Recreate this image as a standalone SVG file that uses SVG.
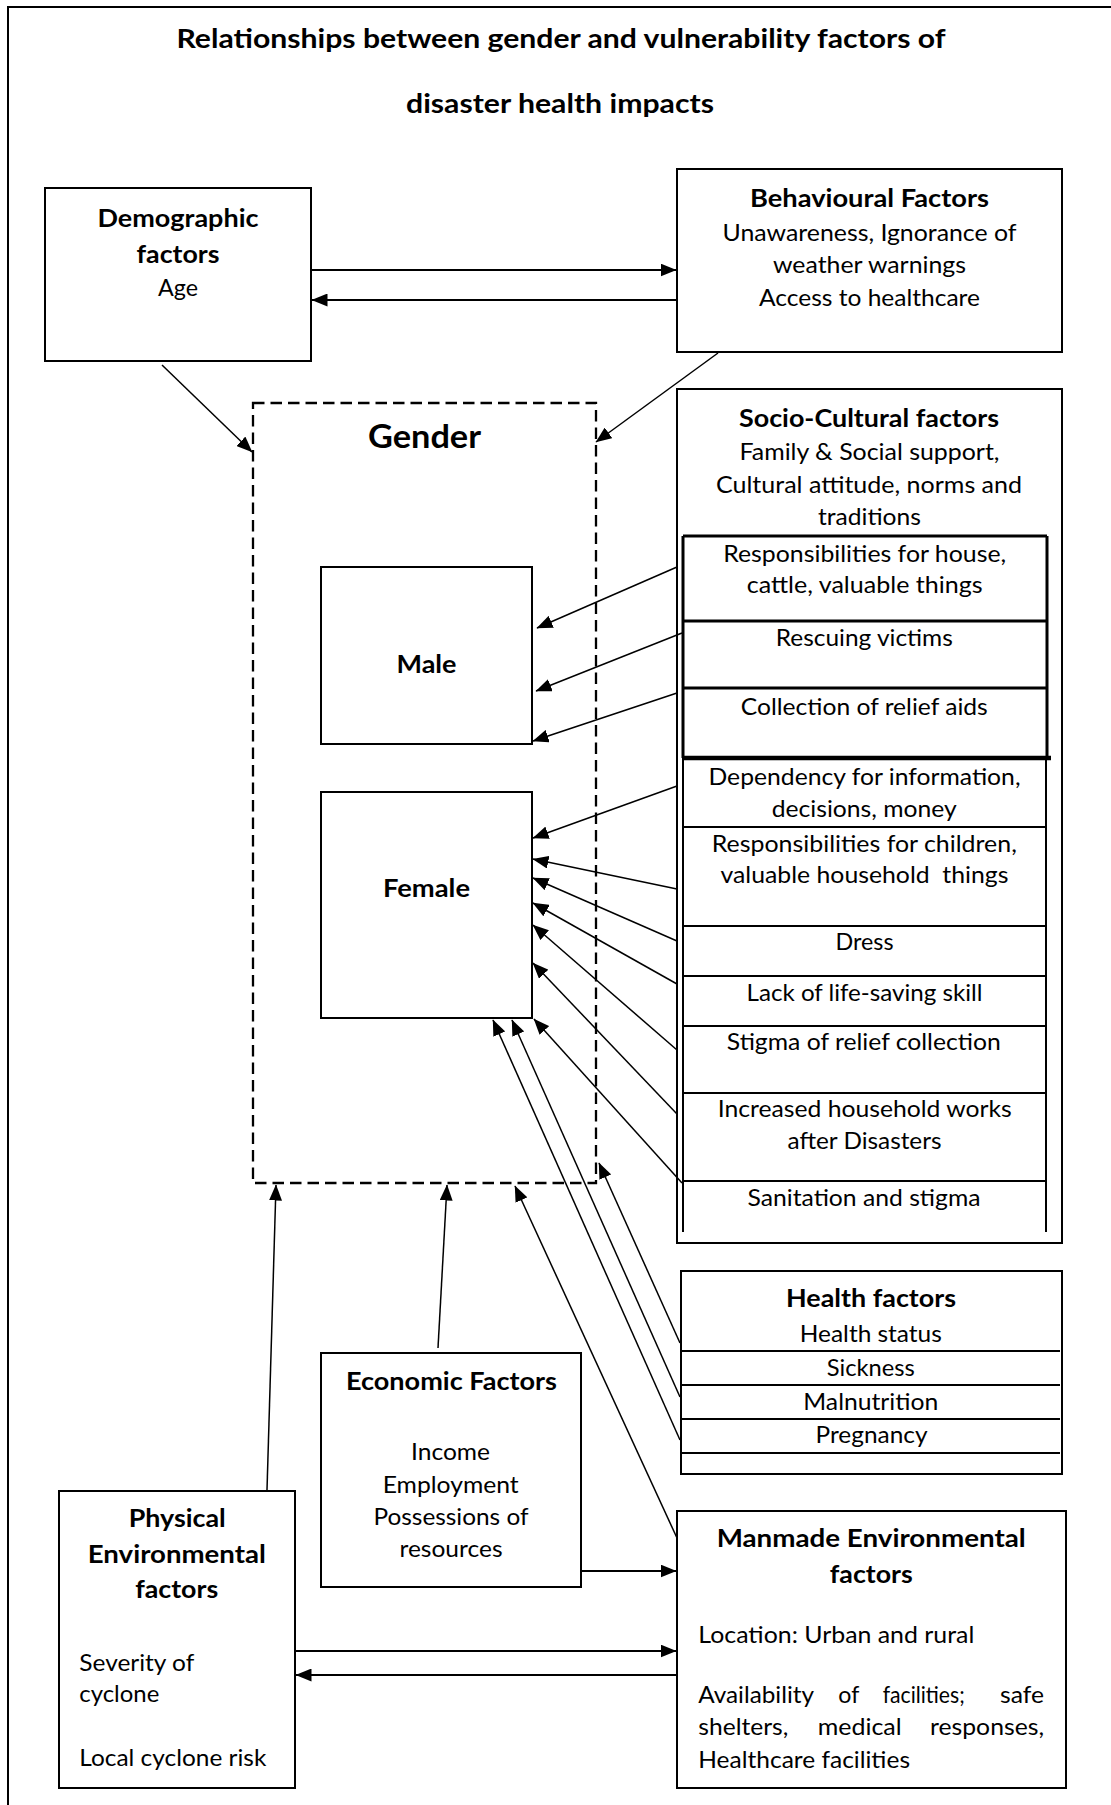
<svg xmlns="http://www.w3.org/2000/svg" width="1111" height="1805" viewBox="0 0 1111 1805">
  <style>
    text { font-family: Lato, "Open Sans", "Liberation Sans", sans-serif; fill: #000; }
    .t { font-weight: 700; font-size: 26.5px; text-anchor: middle; }
    .h { font-weight: 700; font-size: 25px; text-anchor: middle; }
    .g { font-weight: 700; font-size: 32px; text-anchor: middle; }
    .b { font-size: 23.5px; text-anchor: middle; }
    .l { font-size: 23.5px; text-anchor: start; }
    .box { fill: #fff; stroke: #000; stroke-width: 2; }
    .dash { fill: none; stroke: #000; stroke-width: 2.3; stroke-dasharray: 11.5 6; }
    .row { stroke: #000; stroke-width: 2; fill: none; }
    .rowk { stroke: #000; stroke-width: 3; fill: none; }
    .cn { stroke: #000; stroke-width: 1.5; fill: none; marker-end: url(#ah); }
    .cw { stroke: #000; stroke-width: 2; fill: none; marker-end: url(#ah); }
  </style>
  <defs>
    <marker id="ah" markerUnits="userSpaceOnUse" markerWidth="17" markerHeight="13" refX="15.5" refY="6.5" orient="auto">
      <path d="M0,0 L16,6.5 L0,13 z" fill="#000"/>
    </marker>
  </defs>

  <rect x="0" y="0" width="1111" height="1805" fill="#fff"/>
  <!-- page frame (right and bottom edges run off the sheet) -->
  <rect x="8" y="7" width="1120" height="1820" fill="none" stroke="#000" stroke-width="2"/>

  <g id="title">
    <text class="t" x="561" y="48" textLength="769" lengthAdjust="spacingAndGlyphs">Relationships between gender and vulnerability factors of</text>
    <text class="t" x="560" y="113" textLength="308" lengthAdjust="spacingAndGlyphs">disaster health impacts</text>
  </g>

  <g id="demographic">
    <rect class="box" x="45" y="188" width="266" height="173"/>
    <text class="h" x="178" y="227" textLength="161" lengthAdjust="spacingAndGlyphs">Demographic</text>
    <text class="h" x="178" y="263" textLength="83" lengthAdjust="spacingAndGlyphs">factors</text>
    <text class="b" x="178" y="296" textLength="40" lengthAdjust="spacingAndGlyphs">Age</text>
  </g>

  <g id="behavioural">
    <rect class="box" x="677" y="169" width="385" height="183"/>
    <text class="h" x="869.5" y="207" textLength="239" lengthAdjust="spacingAndGlyphs">Behavioural Factors</text>
    <text class="b" x="869.5" y="241" textLength="294" lengthAdjust="spacingAndGlyphs">Unawareness, Ignorance of</text>
    <text class="b" x="869.5" y="273" textLength="193" lengthAdjust="spacingAndGlyphs">weather warnings</text>
    <text class="b" x="869.5" y="306" textLength="221" lengthAdjust="spacingAndGlyphs">Access to healthcare</text>
  </g>

  <g id="gender">
    <rect class="dash" x="253" y="403" width="343" height="780"/>
    <text class="g" x="424.5" y="448" textLength="113" lengthAdjust="spacingAndGlyphs">Gender</text>
  </g>

  <g id="male">
    <rect class="box" x="321" y="567" width="211" height="177"/>
    <text class="h" x="426.5" y="673" textLength="60" lengthAdjust="spacingAndGlyphs">Male</text>
  </g>

  <g id="female">
    <rect class="box" x="321" y="792" width="211" height="226"/>
    <text class="h" x="426.5" y="897" textLength="87" lengthAdjust="spacingAndGlyphs">Female</text>
  </g>

  <g id="socio-cultural">
    <rect class="box" x="677" y="389" width="385" height="854"/>
    <text class="h" x="869" y="427" textLength="260" lengthAdjust="spacingAndGlyphs">Socio-Cultural factors</text>
    <text class="b" x="869.5" y="460" textLength="260" lengthAdjust="spacingAndGlyphs">Family &amp; Social support,</text>
    <text class="b" x="869" y="493" textLength="306" lengthAdjust="spacingAndGlyphs">Cultural attitude, norms and</text>
    <text class="b" x="869.4" y="525" textLength="103" lengthAdjust="spacingAndGlyphs">traditions</text>
    <!-- male-related rows: heavier rules -->
    <path class="rowk" d="M683,536 H1047 M683,536 V758 M1047,536 V758 M683,621 H1047 M683,688 H1047"/>
    <path d="M683,758 H1051" stroke="#000" stroke-width="4.5"/>
    <!-- female-related rows -->
    <path class="row" d="M683,758 V1232 M1046,758 V1232 M683,827 H1046 M683,926 H1046 M683,976 H1046 M683,1026 H1046 M683,1093 H1046 M683,1181 H1046"/>
    <text class="b" x="864.7" y="562" textLength="283" lengthAdjust="spacingAndGlyphs">Responsibilities for house,</text>
    <text class="b" x="864.7" y="593" textLength="236" lengthAdjust="spacingAndGlyphs">cattle, valuable things</text>
    <text class="b" x="864.3" y="646" textLength="177" lengthAdjust="spacingAndGlyphs">Rescuing victims</text>
    <text class="b" x="864.3" y="715" textLength="247" lengthAdjust="spacingAndGlyphs">Collection of relief aids</text>
    <text class="b" x="864.5" y="785" textLength="312" lengthAdjust="spacingAndGlyphs">Dependency for information,</text>
    <text class="b" x="864.2" y="817" textLength="185" lengthAdjust="spacingAndGlyphs">decisions, money</text>
    <text class="b" x="864.3" y="852" textLength="305" lengthAdjust="spacingAndGlyphs">Responsibilities for children,</text>
    <text class="b" x="864.5" y="883" textLength="288" lengthAdjust="spacingAndGlyphs" xml:space="preserve">valuable household  things</text>
    <text class="b" x="864.5" y="950" textLength="58" lengthAdjust="spacingAndGlyphs">Dress</text>
    <text class="b" x="864.5" y="1001" textLength="236" lengthAdjust="spacingAndGlyphs">Lack of life-saving skill</text>
    <text class="b" x="863.8" y="1050" textLength="274" lengthAdjust="spacingAndGlyphs">Stigma of relief collection</text>
    <text class="b" x="864.7" y="1117" textLength="294" lengthAdjust="spacingAndGlyphs">Increased household works</text>
    <text class="b" x="864.5" y="1149" textLength="154" lengthAdjust="spacingAndGlyphs">after Disasters</text>
    <text class="b" x="864" y="1206" textLength="233" lengthAdjust="spacingAndGlyphs">Sanitation and stigma</text>
  </g>

  <g id="health">
    <rect class="box" x="681" y="1271" width="381" height="203"/>
    <path class="row" d="M681,1351 H1060 M681,1385 H1060 M681,1419 H1060 M681,1453 H1060"/>
    <text class="h" x="871" y="1307" textLength="170" lengthAdjust="spacingAndGlyphs">Health factors</text>
    <text class="b" x="870.8" y="1342" textLength="142" lengthAdjust="spacingAndGlyphs">Health status</text>
    <text class="b" x="870.8" y="1376" textLength="88" lengthAdjust="spacingAndGlyphs">Sickness</text>
    <text class="b" x="870.8" y="1410" textLength="135" lengthAdjust="spacingAndGlyphs">Malnutrition</text>
    <text class="b" x="871.5" y="1443" textLength="112" lengthAdjust="spacingAndGlyphs">Pregnancy</text>
  </g>

  <g id="economic">
    <rect class="box" x="321" y="1353" width="260" height="234"/>
    <text class="h" x="451.5" y="1390" textLength="211" lengthAdjust="spacingAndGlyphs">Economic Factors</text>
    <text class="b" x="450.5" y="1460" textLength="79" lengthAdjust="spacingAndGlyphs">Income</text>
    <text class="b" x="450.7" y="1493" textLength="136" lengthAdjust="spacingAndGlyphs">Employment</text>
    <text class="b" x="451" y="1525" textLength="155" lengthAdjust="spacingAndGlyphs">Possessions of</text>
    <text class="b" x="451" y="1557" textLength="103" lengthAdjust="spacingAndGlyphs">resources</text>
  </g>

  <g id="physical">
    <rect class="box" x="59" y="1491" width="236" height="297"/>
    <text class="h" x="177.3" y="1527" textLength="97" lengthAdjust="spacingAndGlyphs">Physical</text>
    <text class="h" x="176.8" y="1563" textLength="178" lengthAdjust="spacingAndGlyphs">Environmental</text>
    <text class="h" x="176.7" y="1598" textLength="83" lengthAdjust="spacingAndGlyphs">factors</text>
    <text class="l" x="79.3" y="1671" textLength="115" lengthAdjust="spacingAndGlyphs">Severity of</text>
    <text class="l" x="79.3" y="1702" textLength="80" lengthAdjust="spacingAndGlyphs">cyclone</text>
    <text class="l" x="79.3" y="1766" textLength="187" lengthAdjust="spacingAndGlyphs">Local cyclone risk</text>
  </g>

  <g id="manmade">
    <rect class="box" x="677" y="1511" width="389" height="277"/>
    <text class="h" x="871.2" y="1547" textLength="309" lengthAdjust="spacingAndGlyphs">Manmade Environmental</text>
    <text class="h" x="871.3" y="1583" textLength="83" lengthAdjust="spacingAndGlyphs">factors</text>
    <text class="l" x="698.3" y="1643" textLength="276" lengthAdjust="spacingAndGlyphs">Location: Urban and rural</text>
    <!-- justified paragraph: words placed individually -->
    <text class="l" x="698.3" y="1703" textLength="115.7" lengthAdjust="spacingAndGlyphs">Availability</text>
    <text class="l" x="838.3" y="1703" textLength="21" lengthAdjust="spacingAndGlyphs">of</text>
    <text class="l" x="882.7" y="1703" textLength="82" lengthAdjust="spacingAndGlyphs">facilities;</text>
    <text class="l" x="1000" y="1703" textLength="44" lengthAdjust="spacingAndGlyphs">safe</text>
    <text class="l" x="698.3" y="1735" textLength="90" lengthAdjust="spacingAndGlyphs">shelters,</text>
    <text class="l" x="817.7" y="1735" textLength="84" lengthAdjust="spacingAndGlyphs">medical</text>
    <text class="l" x="930" y="1735" textLength="114" lengthAdjust="spacingAndGlyphs">responses,</text>
    <text class="l" x="698.3" y="1768" textLength="211.7" lengthAdjust="spacingAndGlyphs">Healthcare facilities</text>
  </g>

  <g id="connectors">
    <!-- two-way links drawn with heavier lines -->
    <path class="cw" d="M311,270 H676"/>
    <path class="cw" d="M677,300 H312"/>
    <path class="cw" d="M581,1571 H676"/>
    <path class="cw" d="M295,1651 H676"/>
    <path class="cw" d="M677,1675 H296"/>
    <!-- into the gender frame -->
    <path class="cn" d="M162,365 L252,452"/>
    <path class="cn" d="M718,353 L596,442"/>
    <path class="cn" d="M267,1490 L276,1185"/>
    <path class="cn" d="M438,1348 L447,1185"/>
    <path class="cn" d="M677,1538 L515,1186"/>
    <path class="cn" d="M680,1343 L599,1163"/>
    <!-- socio-cultural rows to male -->
    <path class="cn" d="M677,567 L537,628"/>
    <path class="cn" d="M682,633 L536,691"/>
    <path class="cn" d="M677,693 L533,741"/>
    <!-- socio-cultural rows to female -->
    <path class="cn" d="M677,786 L533,838"/>
    <path class="cn" d="M677,889 L533,859"/>
    <path class="cn" d="M677,941 L533,878"/>
    <path class="cn" d="M677,984 L533,903"/>
    <path class="cn" d="M677,1050 L533,925"/>
    <path class="cn" d="M677,1114 L533,963"/>
    <path class="cn" d="M682,1183 L534,1019"/>
    <!-- health rows to female -->
    <path class="cn" d="M680,1397 L512,1020"/>
    <path class="cn" d="M680,1440 L493,1020"/>
  </g>
</svg>
